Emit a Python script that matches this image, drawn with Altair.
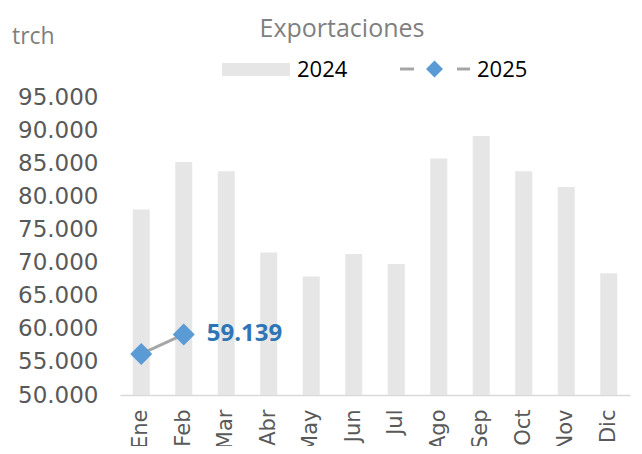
import altair as alt
import pandas as pd

months = ["Ene", "Feb", "Mar", "Abr", "May", "Jun", "Jul", "Ago", "Sep", "Oct", "Nov", "Dic"]
v2024 = [78000, 85200, 83800, 71500, 67900, 71300, 69800, 85700, 89100, 83800, 81400, 68400]
months2025 = ["Ene", "Feb"]
v2025 = [56200, 59139]
y_ticks = [50000, 55000, 60000, 65000, 70000, 75000, 80000, 85000, 90000, 95000]

df24 = pd.DataFrame({"mes": months, "valor": v2024})
df25 = pd.DataFrame({"mes": months2025, "valor": v2025})
df25["label"] = [f"{v:,}".replace(",", ".") for v in v2025]
df_last = df25.tail(1)
one = pd.DataFrame({"a": [0]})

LAB = "#595959"
xscale = alt.Scale(domain=months, paddingInner=0.6, paddingOuter=0.3)
yscale = alt.Scale(domain=[50000, 95000], zero=False, nice=False)

x_axis = alt.Axis(
    title=None, labelAngle=-90, labelPadding=14, ticks=False, tickSize=0,
    domainColor="#d9d9d9", domainWidth=1.5, labelFont="DejaVu Sans",
    labelFontSize=21, labelColor=LAB, labelOverlap=False)
y_axis = alt.Axis(
    title=None, values=y_ticks, grid=False, domain=False, ticks=False, tickSize=0,
    labelPadding=22, labelFont="DejaVu Sans", labelFontSize=23, labelColor=LAB,
    labelOverlap=False, labelFlush=False, tickCount=10,
    labelExpr="replace(format(datum.value, ','), ',', '.')")

x_enc = alt.X("mes:N", scale=xscale, sort=months, axis=x_axis)
y_enc = alt.Y("valor:Q", scale=yscale, axis=y_axis)

bars = alt.Chart(df24).mark_bar(color="#e6e6e6").encode(
    x=x_enc, y=y_enc, y2=alt.datum(50000))
line = alt.Chart(df25).mark_line(color="#a6a6a6", strokeWidth=3).encode(
    x=x_enc, y=y_enc)
pts = alt.Chart(df25).mark_point(shape="diamond", filled=True, size=484,
                                 color="#5b9bd5", opacity=1).encode(x=x_enc, y=y_enc)
lab = alt.Chart(df_last).mark_text(align="left", baseline="middle", dx=23,
                                   font="Open Sans", fontSize=24, fontWeight="bold",
                                   color="#2e75b6").encode(
    x=x_enc, y=y_enc, text="label:N")

# title, unit and legend
title = alt.Chart(one).mark_text(align="center", baseline="alphabetic", font="Open Sans",
                                 fontSize=25, color="#7f7f7f").encode(
    x=alt.value(222), y=alt.value(-60), text=alt.value("Exportaciones"))
unit = alt.Chart(one).mark_text(align="left", baseline="alphabetic", font="Open Sans",
                                fontSize=23, color="#7f7f7f").encode(
    x=alt.value(-108), y=alt.value(-53), text=alt.value("trch"))
leg_rect = alt.Chart(one).mark_rect(color="#e6e6e6").encode(
    x=alt.value(102), x2=alt.value(170), y=alt.value(-34), y2=alt.value(-21))
leg_t24 = alt.Chart(one).mark_text(align="left", baseline="alphabetic", font="Open Sans",
                                   fontSize=22, color="#000000").encode(
    x=alt.value(177), y=alt.value(-20), text=alt.value("2024"))
leg_d1 = alt.Chart(one).mark_rule(color="#a6a6a6", strokeWidth=3).encode(
    x=alt.value(280), x2=alt.value(294), y=alt.value(-28))
leg_d2 = alt.Chart(one).mark_rule(color="#a6a6a6", strokeWidth=3).encode(
    x=alt.value(337), x2=alt.value(350), y=alt.value(-28))
leg_pt = alt.Chart(one).mark_point(shape="diamond", filled=True, size=289,
                                   color="#5b9bd5", opacity=1).encode(
    x=alt.value(314.5), y=alt.value(-28))
leg_t25 = alt.Chart(one).mark_text(align="left", baseline="alphabetic", font="Open Sans",
                                   fontSize=22, color="#000000").encode(
    x=alt.value(357), y=alt.value(-20), text=alt.value("2025"))

chart = alt.layer(bars, line, pts, lab, title, unit, leg_rect, leg_t24,
                  leg_d1, leg_d2, leg_pt, leg_t25).properties(
    width=510, height=298, autosize="none",
    padding={"left": 112, "top": 89, "right": 4, "bottom": 51},
    background="#ffffff",
).configure_view(stroke=None)

chart.save("out.html", embed_options={"renderer": "svg", "actions": False})
